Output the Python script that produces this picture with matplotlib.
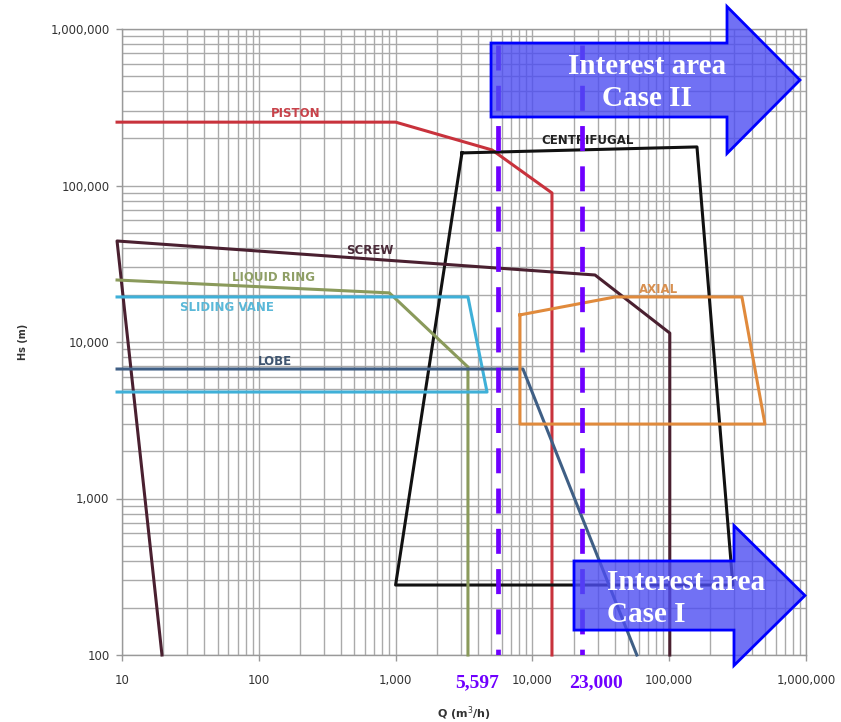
import numpy as np
import matplotlib
matplotlib.use('Agg')
import matplotlib.pyplot as plt
from matplotlib.patches import Polygon
from matplotlib.ticker import FixedLocator, LogLocator, NullFormatter


# operating envelopes, Q (m3/h) vs Hs (m)
piston_q = [9.2, 1000, 5070, 13900, 13900]
piston_h = [254000, 254000, 168700, 89600, 100]

centrif_q = [3055, 159600, 292000, 1000, 3055]
centrif_h = [161500, 176400, 280, 280, 161500]

screw_q = [19.6, 9.2, 28700, 101000, 101000]
screw_h = [100, 44200, 26800, 11400, 100]

liquid_q = [9.2, 900, 3380, 3380]
liquid_h = [24900, 20600, 6920, 100]

vane_q = [9.2, 3380, 4660, 9.2]
vane_h = [19400, 19400, 4790, 4790]

lobe_q = [9.2, 8530, 58000]
lobe_h = [6720, 6720, 100]

axial_q = [8110, 40200, 340000, 501000, 8110, 8110]
axial_h = [14900, 19400, 19400, 2990, 2990, 14900]

curves = [
    ('PISTON', piston_q, piston_h, '#c8323c', '#c8424a', (187, 290000)),
    ('CENTRIFUGAL', centrif_q, centrif_h, '#111111', '#222222', (25500, 195000)),
    ('SCREW', screw_q, screw_h, '#4a2030', '#4a2a38', (650, 38700)),
    ('LIQUID RING', liquid_q, liquid_h, '#8a9a5b', '#8f9f66', (127, 26000)),
    ('SLIDING VANE', vane_q, vane_h, '#3fb0d8', '#5ab8d8', (58.6, 16700)),
    ('LOBE', lobe_q, lobe_h, '#3f5f85', '#3f5570', (131, 7560)),
    ('AXIAL', axial_q, axial_h, '#e08a3c', '#d89050', (84200, 21500)),
]

case_q = [5597, 23000]
case_labels = ['5,597', '23,000']
case_label_x = [3940, 29200]

x_ticks = [10, 100, 1000, 10000, 100000, 1000000]
y_ticks = [100, 1000, 10000, 100000, 1000000]

purple = '#6f00ff'

fig = plt.figure(figsize=(8.41, 7.22), dpi=100)
ax = fig.add_axes([122/841, 1 - 655/722, 684/841, 626/722])
ax.set_xscale('log')
ax.set_yscale('log')
ax.set_xlim(10, 1e6)
ax.set_ylim(100, 1e6)

ax.xaxis.set_major_locator(FixedLocator(x_ticks))
ax.yaxis.set_major_locator(FixedLocator(y_ticks))
ax.xaxis.set_minor_locator(LogLocator(base=10, subs=np.arange(2, 10)))
ax.yaxis.set_minor_locator(LogLocator(base=10, subs=np.arange(2, 10)))
ax.xaxis.set_minor_formatter(NullFormatter())
ax.yaxis.set_minor_formatter(NullFormatter())
ax.set_xticklabels(['{:,}'.format(v) for v in x_ticks])
ax.set_yticklabels(['{:,}'.format(v) for v in y_ticks])
ax.tick_params(which='major', length=4, width=1, color='#999999', labelsize=8.5,
               labelcolor='#333333')
ax.tick_params(axis='x', which='major', pad=10)
ax.tick_params(axis='y', which='major', pad=5)
ax.tick_params(which='minor', length=0)
ax.grid(True, which='both', color='#aaaaaa', lw=1.0)
ax.set_axisbelow(True)
for s in ax.spines.values():
    s.set_color('#999999')
    s.set_linewidth(1.0)

ax.set_xlabel('Q (m$^3$/h)', fontsize=8, fontweight='bold', color='#333333', labelpad=12)
ax.set_ylabel('Hs (m)', fontsize=7, fontweight='bold', color='#333333', labelpad=16)

for name, q, h, col, tcol, pos in curves:
    ax.plot(q, h, color=col, lw=2.2, clip_on=False, zorder=3)
    ax.text(pos[0], pos[1], name, color=tcol, fontsize=8.5, fontweight='bold',
            ha='center', va='center', zorder=4)

# interest lines
plt.rcParams['lines.scale_dashes'] = False
for q in case_q:
    ax.plot([q, q], [790000, 100], color=purple, lw=3.4, dashes=(18, 11), zorder=5)
for lx, lab in zip(case_label_x, case_labels):
    ax.text(lx, -0.045, lab, transform=ax.get_xaxis_transform(), color=purple,
            fontsize=14, fontweight='bold', family='Liberation Serif',
            ha='center', va='center')


def block_arrow(x0, xh, xt, yc, body, head):
    pts = [(x0, yc + body), (xh, yc + body), (xh, yc + head), (xt, yc),
           (xh, yc - head), (xh, yc - body), (x0, yc - body)]
    p = Polygon(pts, closed=True, transform=ax.transAxes, facecolor=(0.3, 0.3, 0.95),
                alpha=0.8, edgecolor='none', clip_on=False, zorder=6)
    ax.add_patch(p)
    e = Polygon(pts, closed=True, transform=ax.transAxes, facecolor='none',
                edgecolor='#0000ff', lw=2, clip_on=False, zorder=7)
    ax.add_patch(e)


block_arrow(0.5395, 0.8845, 0.9912, 0.9185, 0.0591, 0.1174)
block_arrow(0.6608, 0.8947, 0.9985, 0.0950, 0.0552, 0.1118)

ax.text(0.767, 0.915, 'Interest area\nCase II', transform=ax.transAxes, color='white',
        fontsize=21, fontweight='bold', family='Liberation Serif', ha='center',
        va='center', linespacing=1.25, zorder=8)
ax.text(0.709, 0.09, 'Interest area\nCase I', transform=ax.transAxes, color='white',
        fontsize=21, fontweight='bold', family='Liberation Serif', ha='left',
        va='center', linespacing=1.25, zorder=8)

fig.savefig('out.png', dpi=100)
